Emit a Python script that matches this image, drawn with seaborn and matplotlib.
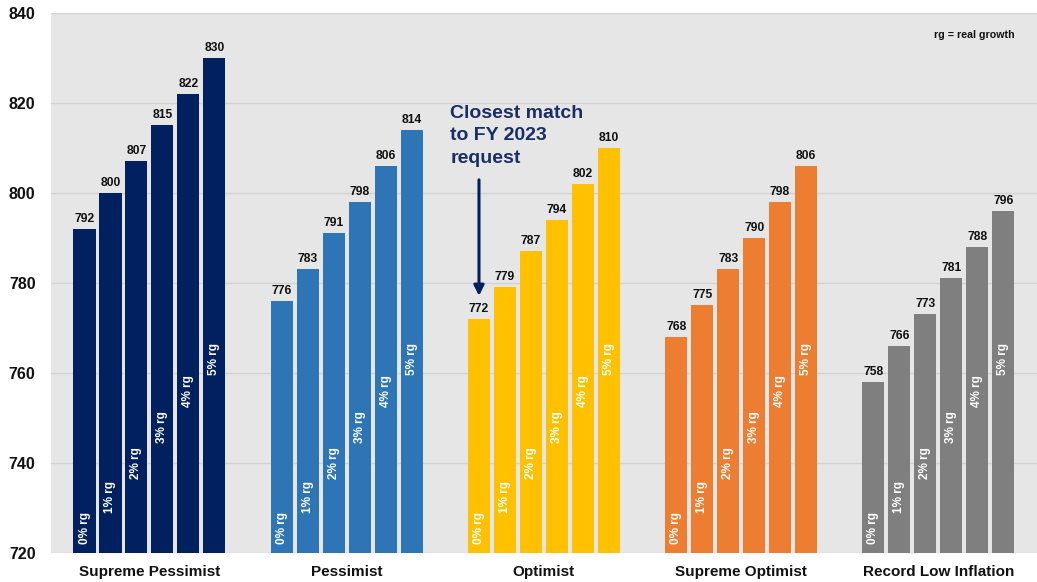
import matplotlib
matplotlib.use("Agg")
import matplotlib.pyplot as plt
import seaborn as sns
import pandas as pd

scenarios = ["Supreme Pessimist", "Pessimist", "Optimist", "Supreme Optimist", "Record Low Inflation"]
rg_levels = ["0% rg", "1% rg", "2% rg", "3% rg", "4% rg", "5% rg"]
supreme_pessimist = [792, 800, 807, 815, 822, 830]
pessimist = [776, 783, 791, 798, 806, 814]
optimist = [772, 779, 787, 794, 802, 810]
supreme_optimist = [768, 775, 783, 790, 798, 806]
record_low = [758, 766, 773, 781, 788, 796]
scenario_colors = ["#002060", "#2E75B6", "#FFC000", "#ED7D31", "#7F7F7F"]
rg_label_y = [725.5, 732.5, 740, 748, 756, 763]
y_ticks = [720, 740, 760, 780, 800, 820, 840]

rows = []
for sc, vals in zip(scenarios, [supreme_pessimist, pessimist, optimist, supreme_optimist, record_low]):
    for rg, v in zip(rg_levels, vals):
        rows.append({"scenario": sc, "rg": rg, "value": v})
df = pd.DataFrame(rows)

sns.set_style("whitegrid", {"axes.facecolor": "#E6E6E6", "grid.color": "#D2D2D2",
                            "axes.edgecolor": "#E6E6E6"})
plt.rcParams["font.family"] = ["Liberation Sans", "DejaVu Sans"]

fig = plt.figure(figsize=(10.37, 5.82), dpi=100)
ax = fig.add_axes([0.049, 0.05, 0.951, 0.928])

sns.barplot(data=df, x="scenario", y="value", hue="rg", order=scenarios, hue_order=rg_levels,
            palette=["#000000"] * 6, width=0.79, gap=0.15, ax=ax, legend=False,
            edgecolor="none", linewidth=0)

for i, cont in enumerate(ax.containers):
    for j, bar in enumerate(cont):
        bar.set_facecolor(scenario_colors[j])
        cx = bar.get_x() + bar.get_width() / 2
        ax.text(cx, rg_label_y[i], rg_levels[i], rotation=90, ha="center", va="center",
                color="white", fontsize=8.5, fontweight="bold")
    ax.bar_label(cont, fmt="%d", padding=3, fontsize=8.7, fontweight="bold", color="#111111")

ax.set_ylim(720, 840)
ax.set_yticks(y_ticks)
ax.set_xlim(-0.5, len(scenarios) - 0.5)
ax.grid(axis="x", visible=False)
ax.grid(axis="y", color="#D2D2D2", linewidth=1)
ax.set_axisbelow(True)
for s in ax.spines.values():
    s.set_visible(False)
ax.set_xlabel("")
ax.set_ylabel("")
ax.tick_params(axis="y", labelsize=11.5, pad=11, length=0)
ax.tick_params(axis="x", labelsize=11, pad=9, length=0)
for lab in ax.get_yticklabels() + ax.get_xticklabels():
    lab.set_fontweight("bold")
    lab.set_color("#111111")

ax.text(0.977, 0.959, "rg = real growth", transform=ax.transAxes, ha="right", va="center",
        fontsize=7.7, fontweight="bold", color="#111111")

# annotation for Optimist 0% bar
opt_bar = ax.containers[0][2]
ax_x = opt_bar.get_x() + opt_bar.get_width() / 2
ax.annotate("", xy=(ax_x, 776.5), xytext=(ax_x, 803.5),
            arrowprops=dict(arrowstyle="-|>,head_width=0.3,head_length=0.6", color="#002060", lw=2.2))
ax.text(opt_bar.get_x() - 0.09, 819.6, "Closest match\nto FY 2023\nrequest", ha="left", va="top",
        fontsize=14, fontweight="bold", color="#1A2E66", linespacing=1.42)

fig.savefig("out.png", dpi=100, facecolor="white")
